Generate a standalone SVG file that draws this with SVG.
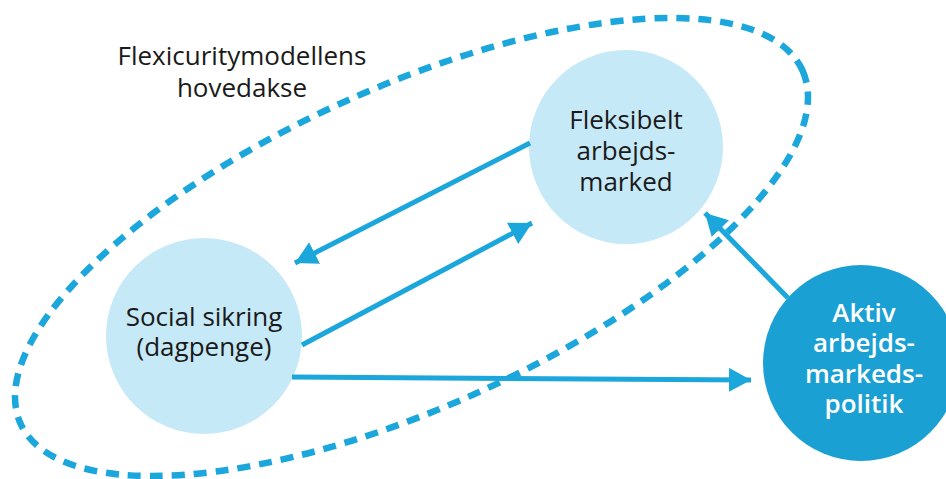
<svg xmlns="http://www.w3.org/2000/svg" width="946" height="479" viewBox="0 0 946 479">
<style>
.txt{font-family:"Open Sans","Noto Sans",sans-serif;font-size:26px;fill:#1a1a1a;text-anchor:middle}
.wtxt{font-family:"Open Sans","Noto Sans",sans-serif;font-size:26px;font-weight:600;fill:#ffffff;text-anchor:middle}
.light{fill:#c6e9f7}
.dark{fill:#1ba0d4}
.conn{stroke:#1ba6dc;stroke-width:5;fill:none;marker-end:url(#ah)}
.dash{stroke:#1ba6dc;stroke-width:6.5;fill:none;stroke-dasharray:13 9}
</style>
<defs>
<marker id="ah" markerUnits="userSpaceOnUse" markerWidth="24" markerHeight="26" refX="22" refY="12" orient="auto">
<path d="M0,0 L22,12 L0,24 Z" fill="#1ba6dc"/>
</marker>
</defs>
<rect width="946" height="479" fill="#ffffff"/>
<g id="nodes">
<g id="fleksibelt">
<circle class="light" cx="626" cy="147" r="97"/>
<text class="txt" x="626" y="129">Fleksibelt</text>
<text class="txt" x="626" y="160">arbejds-</text>
<text class="txt" x="626" y="191">marked</text>
</g>
<g id="social">
<circle class="light" cx="204" cy="336" r="98"/>
<text class="txt" x="204" y="326">Social sikring</text>
<text class="txt" x="204" y="356">(dagpenge)</text>
</g>
<g id="aktiv">
<circle class="dark" cx="861" cy="363" r="98"/>
<text class="wtxt" x="864" y="322">Aktiv</text>
<text class="wtxt" x="864" y="352">arbejds-</text>
<text class="wtxt" x="864" y="383">markeds-</text>
<text class="wtxt" x="864" y="413">politik</text>
</g>
<g id="hovedakse">
<ellipse class="dash" cx="411.5" cy="247" rx="429" ry="160" transform="rotate(-24.3 411.5 247)"/>
<text class="txt" x="242" y="65">Flexicuritymodellens</text>
<text class="txt" x="242" y="97">hovedakse</text>
</g>
</g>
<g id="connectors">
<line class="conn" x1="530" y1="143" x2="295" y2="263"/>
<line class="conn" x1="302" y1="345" x2="532" y2="223"/>
<line class="conn" x1="292" y1="377" x2="751" y2="380"/>
<line class="conn" x1="788" y1="298" x2="705" y2="213"/>
</g>
</svg>
